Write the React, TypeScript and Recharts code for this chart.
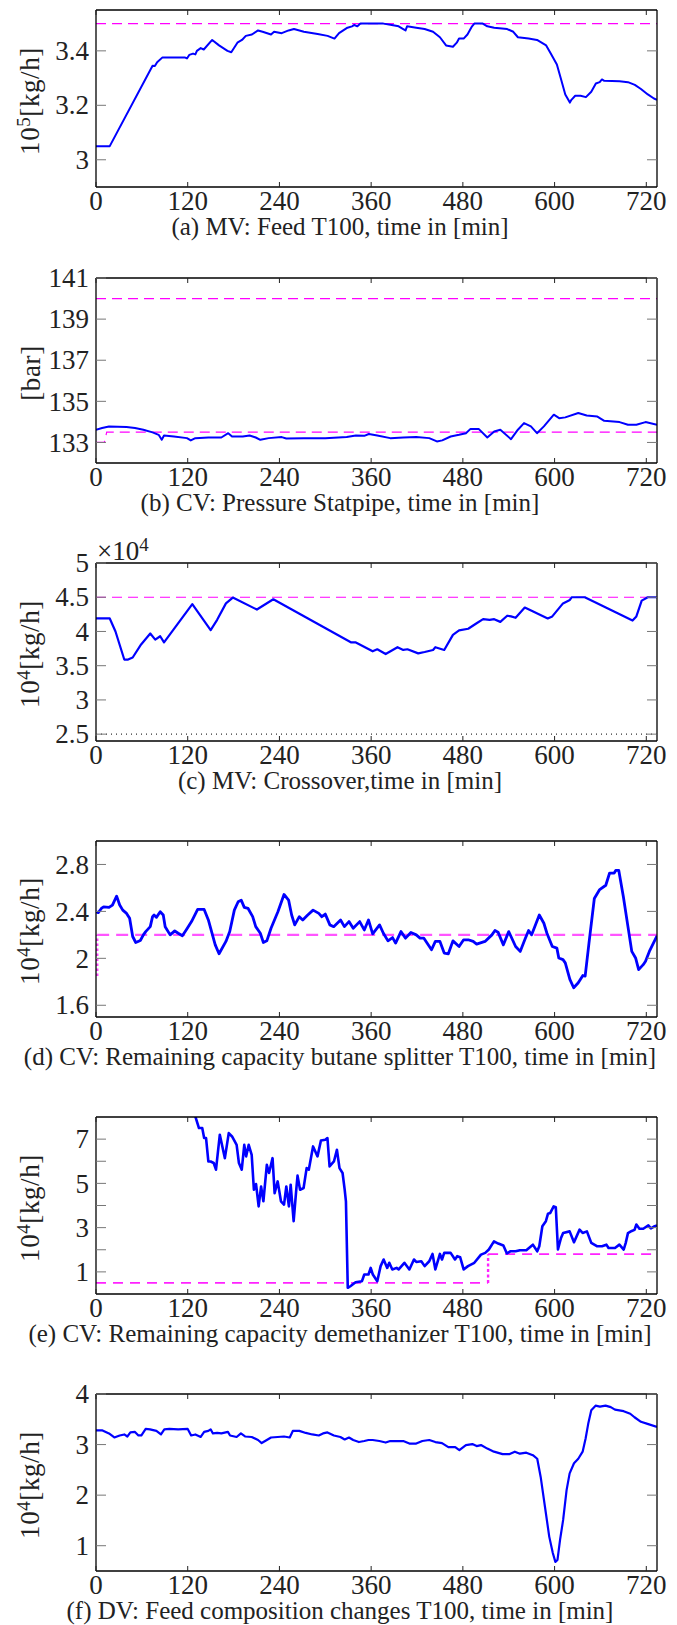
import React from 'react';
import { LineChart, Line, XAxis, YAxis } from 'recharts';

const FONT = "'Liberation Serif', 'Times New Roman', serif";
const INK = '#222';
const BLUE = '#0000ff';

const T_MAX = 734;
const timeTicks = [0, 120, 240, 360, 480, 600, 720];

// (a) MV feed T100 [10^5 kg/h], pairs of [time min, value]
const feedT100 = [
  [0, 3.05], [18, 3.05], [74, 3.345], [77, 3.344], [80, 3.358], [87, 3.376], [116, 3.376], [119, 3.372],
  [122, 3.385], [127, 3.39], [130, 3.387], [132, 3.4], [137, 3.41], [141, 3.405], [152, 3.44], [161, 3.42],
  [172, 3.4], [177, 3.395], [185, 3.43], [191, 3.44], [196, 3.455], [204, 3.46], [212, 3.475], [218, 3.47],
  [229, 3.46], [233, 3.47], [243, 3.465], [252, 3.475], [259, 3.48], [272, 3.47], [290, 3.462], [303, 3.455],
  [312, 3.445], [318, 3.465], [329, 3.485], [335, 3.49], [338, 3.495], [342, 3.49], [346, 3.5], [376, 3.5],
  [387, 3.495], [396, 3.49], [402, 3.48], [405, 3.475], [407, 3.49],
  [419, 3.485], [430, 3.48], [441, 3.47], [450, 3.45], [458, 3.42], [467, 3.415], [472, 3.43], [475, 3.445],
  [481, 3.445], [486, 3.46], [492, 3.49], [495, 3.5], [506, 3.5], [512, 3.49], [521, 3.485], [538, 3.48],
  [546, 3.47], [552, 3.45], [566, 3.445], [577, 3.44], [589, 3.42], [595, 3.39], [603, 3.35], [608, 3.3],
  [614, 3.24], [620, 3.21], [622, 3.22], [627, 3.235], [634, 3.235], [641, 3.23], [648, 3.25], [654, 3.28],
  [659, 3.285], [662, 3.295], [665, 3.29], [685, 3.288], [696, 3.285], [705, 3.275], [713, 3.26], [722, 3.24],
  [730, 3.225], [734, 3.22],
];
const feedMax = [[0, 3.5], [T_MAX, 3.5]];

// (b) CV pressure Statpipe [bar]
const pressure = [
  [0, 133.62], [8, 133.7], [17, 133.78], [40, 133.75], [51, 133.7], [62, 133.62], [74, 133.49], [82, 133.37],
  [86, 133.13], [89, 133.34], [102, 133.29], [119, 133.21], [124, 133.1], [130, 133.21], [147, 133.24],
  [164, 133.24], [173, 133.45], [178, 133.29], [192, 133.29], [201, 133.34], [209, 133.24], [215, 133.13],
  [226, 133.21], [243, 133.26], [249, 133.19], [272, 133.21], [300, 133.21], [328, 133.26], [340, 133.34],
  [351, 133.32], [357, 133.41], [368, 133.34], [385, 133.21], [402, 133.24], [419, 133.26], [436, 133.21],
  [446, 133.05], [453, 133.1], [464, 133.29], [475, 133.37], [484, 133.45], [490, 133.66], [501, 133.65],
  [512, 133.24], [521, 133.53], [529, 133.62], [543, 133.16], [552, 133.62], [560, 133.94], [569, 133.78],
  [577, 133.45], [586, 133.78], [599, 134.35], [606, 134.18], [614, 134.22], [631, 134.43], [642, 134.31],
  [656, 134.26], [665, 134.05], [685, 133.99], [696, 133.86], [707, 133.86], [719, 133.99], [734, 133.86],
];
const pressureMax = [[0, 140], [T_MAX, 140]];
const pressureMin = [[0, 133], [11, 133], [14, 133.5], [T_MAX, 133.5]];

// (c) MV crossover [10^4 kg/h]
const crossover = [
  [0, 4.19], [18, 4.19], [25.5, 4.0], [37, 3.59], [42, 3.59], [48, 3.62], [59, 3.81], [71, 3.97], [77.5, 3.88],
  [84, 3.93], [89, 3.84], [126, 4.4], [150, 4.02], [158.5, 4.17], [170, 4.41], [179, 4.495], [210.5, 4.32],
  [232, 4.47], [334, 3.84], [340, 3.84], [362, 3.71], [368, 3.74], [379, 3.67], [394.5, 3.77], [402, 3.73],
  [407.5, 3.74], [421.6, 3.68], [430, 3.7], [441, 3.73], [444, 3.77], [455.6, 3.73], [467, 3.95], [475, 4.015],
  [487, 4.04], [498, 4.12], [506.5, 4.18], [515, 4.17], [521, 4.18], [529, 4.14], [538, 4.23], [543, 4.22],
  [549, 4.2], [561, 4.35], [572, 4.29], [591, 4.19], [597, 4.22], [611, 4.41], [620, 4.46], [622.5, 4.5],
  [639.5, 4.5], [702, 4.16], [707, 4.22], [714, 4.45], [722, 4.5], [734, 4.5],
];
const crossoverMax = [[0, 4.5], [T_MAX, 4.5]];
const crossoverMin = [[0, 2.5], [T_MAX, 2.5]];

// (d) CV remaining capacity butane splitter [10^4 kg/h]
const butane = [
  [0, 2.397], [3, 2.389], [7, 2.425], [10, 2.439], [17, 2.434], [21.5, 2.454], [27, 2.53], [31, 2.454],
  [35, 2.411], [40, 2.383], [44, 2.341], [48, 2.186], [52, 2.135], [58, 2.152], [62, 2.2], [65, 2.228],
  [71, 2.27], [74, 2.355], [76, 2.369], [79, 2.349], [84, 2.397], [88, 2.369], [90.5, 2.27], [97, 2.2],
  [103, 2.234], [107.5, 2.214], [113, 2.192], [118, 2.242], [125, 2.313], [133, 2.417], [141.5, 2.417],
  [147, 2.327], [156, 2.115], [161, 2.039], [170, 2.144], [175, 2.228], [181, 2.411], [186, 2.482],
  [190, 2.496], [194, 2.434], [199, 2.425], [205, 2.355], [209, 2.27], [215, 2.214], [219, 2.135],
  [223.5, 2.149], [229, 2.256], [238, 2.397], [246, 2.544], [252, 2.496], [256, 2.369], [260, 2.285],
  [266, 2.355], [270.5, 2.327], [277, 2.369], [284, 2.411], [291.5, 2.383], [295.5, 2.355], [300, 2.377],
  [306, 2.285], [311, 2.27], [320, 2.327], [325, 2.27], [331, 2.313], [336.5, 2.256], [345, 2.313],
  [351, 2.242], [356.5, 2.327], [362, 2.208], [371, 2.285], [376, 2.214], [382, 2.149], [388, 2.177],
  [392, 2.13], [399, 2.228], [405, 2.172], [412, 2.22], [419, 2.2], [424, 2.172], [429, 2.172], [439, 2.073],
  [444, 2.144], [450, 2.144], [455.6, 2.045], [461, 2.039], [467, 2.149], [475, 2.101], [481, 2.158],
  [487, 2.158], [493.5, 2.144], [498, 2.121], [509, 2.144], [518, 2.2], [522, 2.237], [526, 2.223],
  [533, 2.115], [540, 2.228], [549, 2.101], [555, 2.059], [561, 2.158], [566, 2.237], [570, 2.2],
  [580, 2.369], [586, 2.299], [590, 2.214], [597, 2.101], [603, 2.087], [605.5, 2.003], [611, 1.989],
  [614, 1.961], [620, 1.82], [625, 1.749], [631, 1.792], [637, 1.854], [640, 1.848], [645, 2.13], [652, 2.51],
  [659, 2.586], [667, 2.623], [672, 2.727], [678, 2.727], [680, 2.749], [684, 2.749], [690, 2.524],
  [696, 2.27], [701, 2.059], [706, 2.003], [710, 1.904], [716, 1.946], [719, 1.975], [724, 2.059],
  [734, 2.192],
];
const butaneStep = [[1.5, 1.85], [1.5, 2.2]];
const butaneMin = [[1.5, 2.2], [T_MAX, 2.2]];

// (e) CV remaining capacity demethanizer [10^4 kg/h]
const demethanizer = [
  [125, 8.6], [130, 8.02], [134.7, 7.5], [139, 7.5], [141.5, 7.05], [144, 7.05], [147, 5.99], [150, 5.99],
  [154, 5.92], [157, 5.62], [162, 7.2], [168.6, 6.14], [173.7, 7.27], [178, 7.12], [184, 6.74], [187, 5.92],
  [190.7, 5.62], [194, 6.74], [196.4, 6.22], [199.8, 6.74], [203.7, 6.29], [206.6, 4.71], [209.4, 4.97],
  [212.8, 3.96], [216, 4.86], [219, 4.19], [223.5, 5.84], [226.4, 5.47], [231, 6.14], [233.7, 4.56],
  [237.7, 5.09], [242, 4.19], [246, 4.04], [249, 4.86], [252.4, 3.96], [254.7, 4.94], [258.6, 3.29],
  [262, 4.71], [263.7, 5.35], [267, 4.71], [271.6, 4.79], [275.6, 5.69], [278.4, 5.62], [284, 6.67],
  [289.8, 6.22], [294.3, 6.94], [300, 6.97], [302.8, 7.05], [305.6, 5.77], [311.3, 5.99], [315.2, 6.52],
  [318.6, 5.69], [322.6, 5.47], [325.4, 4.71], [327, 4.19], [329.4, 0.28], [332.8, 0.35], [339.6, 0.53],
  [348, 0.58], [351, 0.88], [356.5, 0.88], [359.4, 1.18], [362.2, 0.88], [368, 0.58], [372.4, 1.26],
  [376.3, 1.56], [381, 1.18], [383.7, 1.41], [387.7, 1.11], [393.3, 1.18], [396, 1.11], [403.5, 1.41],
  [410, 1.11], [416, 1.56], [419, 1.45], [425.6, 1.48], [430, 1.26], [436, 1.48], [440.3, 1.81], [444, 1.11],
  [450, 1.81], [452.7, 1.56], [455.6, 1.86], [464, 1.86], [469.7, 1.56], [472.6, 1.71], [476.5, 1.66],
  [481, 1.11], [486.7, 1.26], [495, 1.41], [503.7, 1.78], [509.3, 1.86], [514, 2.01], [520.7, 2.38],
  [526.3, 2.28], [533, 2.19], [537.6, 1.83], [542, 1.93], [549, 1.93], [554.6, 1.98], [563, 1.98],
  [571.6, 2.23], [577.3, 1.93], [580, 2.16], [584, 3.06], [588.6, 3.29], [591.4, 3.63], [594.2, 3.66],
  [598.8, 3.96], [601.6, 3.92], [604.4, 2.01], [608.4, 2.53], [611.2, 2.76], [619.7, 2.83], [625.4, 2.34],
  [632.7, 2.91], [636.7, 2.76], [642.3, 2.83], [648, 2.31], [655.3, 2.16], [662, 2.16], [667.8, 2.23],
  [670.6, 2.08], [679, 2.08], [684.8, 2.23], [690.4, 2.01], [693, 2.3], [696, 2.75], [701, 2.85],
  [704.6, 2.9], [707, 3.14], [711, 2.95], [716, 2.95], [722.7, 3.1], [726, 2.97], [730, 3.05], [734, 3.1],
];
const demethLow = [[0, 0.5], [513, 0.5]];
const demethStep = [[513, 0.5], [513, 1.8]];
const demethHigh = [[513, 1.8], [T_MAX, 1.8]];

// (f) DV feed composition changes [10^4 kg/h]
const composition = [
  [0, 3.28], [8.5, 3.28], [17, 3.22], [24, 3.14], [31, 3.18], [37, 3.2], [41, 3.16], [45, 3.24], [51, 3.25],
  [55.5, 3.18], [59.4, 3.18], [65, 3.31], [70.7, 3.3], [79, 3.27], [85, 3.2], [89.4, 3.3], [96, 3.31],
  [107.5, 3.3], [120, 3.31], [124.5, 3.18], [130, 3.2], [137, 3.15], [141.5, 3.25], [147, 3.27], [150, 3.3],
  [153, 3.22], [158.5, 3.23], [164, 3.22], [172.6, 3.25], [175.4, 3.18], [184, 3.15], [189.6, 3.22],
  [195, 3.16], [203.7, 3.15], [212, 3.09], [216.8, 3.03], [223.5, 3.09], [229, 3.14], [237.7, 3.15],
  [246, 3.16], [253.5, 3.14], [257.5, 3.27], [266, 3.27], [274.5, 3.23], [283, 3.2], [291.5, 3.18],
  [297, 3.22], [302.8, 3.24], [311.3, 3.18], [319.7, 3.15], [325.4, 3.1], [331, 3.14], [336.5, 3.09],
  [344, 3.05], [351, 3.07], [356.5, 3.09], [362, 3.09], [370.7, 3.07], [379, 3.04], [385, 3.07], [402, 3.07],
  [410, 3.02], [419, 3.02], [427, 3.07], [436, 3.09], [444, 3.05], [452.7, 3.03], [461, 2.95], [470, 2.95],
  [475.4, 2.89], [484, 2.99], [492.4, 3.01], [498, 2.97], [503.7, 2.99], [512, 2.92], [520.7, 2.86],
  [532, 2.81], [540.5, 2.81], [548, 2.86], [554.6, 2.82], [563, 2.84], [571.6, 2.79], [577.3, 2.72],
  [581.8, 2.36], [587.4, 1.77], [593, 1.18], [597.6, 0.86], [601, 0.68], [603.8, 0.72], [607.2, 1.12],
  [611.2, 1.51], [615.7, 2.1], [619.7, 2.43], [625.4, 2.63], [631, 2.72], [636.7, 2.86], [640.6, 3.12],
  [644, 3.41], [648, 3.68], [653.6, 3.77], [659.3, 3.75], [666.7, 3.77], [673.5, 3.74], [679, 3.69],
  [690.4, 3.66], [699, 3.61], [704.6, 3.54], [713, 3.45], [721.6, 3.41], [734, 3.35],
];

const PLOT_L = 96;
const PLOT_R = 657;
const MT = 20;
const XH = 40;
const TICK_FS = 27;

type RefLine = { data: number[][]; color: string; width: number; dash: string };

interface PanelProps {
  top: number;
  bottom: number;
  domain: [number, number];
  ticks: number[];
  tickText?: (v: number) => string;
  series: number[][];
  lineWidth: number;
  refs: RefLine[];
  yLabel: React.ReactNode;
  caption: string;
}

const toPts = (a: number[][]) => a.map(([t, v]) => ({ t, v }));

const Panel = ({ top, bottom, domain, ticks, tickText, series, lineWidth, refs, yLabel, caption }: PanelProps) => {
  const h = bottom - top;
  const xTick = (p: any) => (
    <g>
      <line x1={p.x} x2={p.x} y1={MT + h} y2={MT + h - 5} stroke={INK} strokeWidth={1} />
      <line x1={p.x} x2={p.x} y1={MT} y2={MT + 5} stroke={INK} strokeWidth={1} />
      <text x={p.x} y={MT + h + 23} textAnchor="middle" fontFamily={FONT} fontSize={TICK_FS} fill={INK}>
        {p.payload.value}
      </text>
    </g>
  );
  const yTick = (p: any) => (
    <g>
      <line x1={PLOT_L} x2={PLOT_L + 10} y1={p.y} y2={p.y} stroke="#777" strokeWidth={1} />
      <text x={PLOT_L - 7} y={p.y} dy="0.34em" textAnchor="end" fontFamily={FONT} fontSize={TICK_FS} fill={INK}>
        {tickText ? tickText(p.payload.value) : String(p.payload.value)}
      </text>
    </g>
  );
  const rTick = (p: any) => (
    <line x1={PLOT_R} x2={PLOT_R - 10} y1={p.y} y2={p.y} stroke="#777" strokeWidth={1} />
  );
  const frame = { stroke: '#000', strokeWidth: 1.3 };

  return (
    <>
      <div style={{ position: 'absolute', left: 0, top: top - MT }}>
        <LineChart width={677} height={h + MT + XH} margin={{ top: MT - 1, right: 677 - PLOT_R - 1, left: 0, bottom: 0 }}>
          <XAxis xAxisId="b" type="number" dataKey="t" domain={[0, T_MAX]} ticks={timeTicks} allowDataOverflow
            height={XH} axisLine={frame} tickLine={false} tick={xTick} interval={0} />
          <XAxis xAxisId="t" orientation="top" type="number" dataKey="t" domain={[0, T_MAX]} allowDataOverflow
            height={1} axisLine={frame} tickLine={false} tick={false} />
          <YAxis yAxisId="l" type="number" domain={domain} ticks={ticks} allowDataOverflow width={PLOT_L}
            axisLine={frame} tickLine={false} tick={yTick} interval={0} />
          <YAxis yAxisId="r" orientation="right" type="number" domain={domain} ticks={ticks} allowDataOverflow
            width={1} axisLine={frame} tickLine={false} tick={rTick} interval={0} />
          {refs.map((r, i) => (
            <Line key={i} xAxisId="b" yAxisId="l" data={toPts(r.data)} dataKey="v" type="linear" dot={false}
              stroke={r.color} strokeWidth={r.width} strokeDasharray={r.dash} isAnimationActive={false} />
          ))}
          <Line xAxisId="b" yAxisId="l" data={toPts(series)} dataKey="v" type="linear" dot={false}
            stroke={BLUE} strokeWidth={lineWidth} strokeLinejoin="round" isAnimationActive={false} />
        </LineChart>
      </div>
      <div style={{
        position: 'absolute', left: 31, top: (top + bottom) / 2 + 2, fontSize: 27, lineHeight: '27px',
        whiteSpace: 'nowrap', letterSpacing: 0.6, transform: 'translate(-50%, -50%) rotate(-90deg)',
      }}>
        {yLabel}
      </div>
      <div style={{
        position: 'absolute', left: 0, width: 680, top: bottom + 27, textAlign: 'center', fontSize: 25,
        lineHeight: '25px', whiteSpace: 'nowrap',
      }}>
        {caption}
      </div>
    </>
  );
};

const sup: React.CSSProperties = { fontSize: '0.7em', verticalAlign: 'baseline', position: 'relative', top: '-0.5em' };
const kgh = (e: string) => (
  <>
    10<span style={sup}>{e}</span>[kg/h]
  </>
);

export default function App() {
  return (
    <div style={{ position: 'absolute', left: 0, top: 0, width: 677, height: 1625, fontFamily: FONT, color: INK, background: '#fff' }}>
      <Panel top={10} bottom={187} domain={[2.9, 3.55]} ticks={[3, 3.2, 3.4]} series={feedT100} lineWidth={2}
        refs={[{ data: feedMax, color: '#ff00ff', width: 1.2, dash: '10 6' }]}
        yLabel={kgh('5')} caption="(a) MV: Feed T100, time in [min]" />
      <Panel top={278} bottom={463} domain={[132, 141]} ticks={[133, 135, 137, 139, 141]} series={pressure} lineWidth={2}
        refs={[
          { data: pressureMax, color: '#ff00ff', width: 1.2, dash: '10 6' },
          { data: pressureMin, color: '#ff00ff', width: 1.2, dash: '10 6' },
        ]}
        yLabel="[bar]" caption="(b) CV: Pressure Statpipe, time in [min]" />
      <Panel top={563} bottom={741} domain={[2.4, 5]} ticks={[2.5, 3, 3.5, 4, 4.5, 5]} series={crossover} lineWidth={2.2}
        refs={[
          { data: crossoverMax, color: '#ff00ff', width: 1.2, dash: '10 6' },
          { data: crossoverMin, color: '#333', width: 1.2, dash: '1 4' },
        ]}
        yLabel={kgh('4')} caption="(c) MV: Crossover,time in [min]" />
      <div style={{ position: 'absolute', left: 97, top: 538, fontSize: 27, lineHeight: '27px', whiteSpace: 'nowrap' }}>
        ×10<span style={sup}>4</span>
      </div>
      <Panel top={841} bottom={1017} domain={[1.5, 3]} ticks={[1.6, 2, 2.4, 2.8]} series={butane} lineWidth={2.8}
        refs={[
          { data: butaneStep, color: '#ff44ff', width: 2.6, dash: '2.5 2.5' },
          { data: butaneMin, color: '#ff55ff', width: 2.2, dash: '12 7' },
        ]}
        yLabel={kgh('4')} caption="(d) CV: Remaining capacity butane splitter T100, time in [min]" />
      <Panel top={1117} bottom={1294} domain={[0, 8]} ticks={[1, 2, 3, 4, 5, 6, 7]}
        tickText={(v) => (v % 2 === 1 ? String(v) : '')} series={demethanizer} lineWidth={2.6}
        refs={[
          { data: demethLow, color: '#ff22ff', width: 1.8, dash: '10 7' },
          { data: demethStep, color: '#ff22ff', width: 2.4, dash: '3 2.5' },
          { data: demethHigh, color: '#ff22ff', width: 1.8, dash: '10 7' },
        ]}
        yLabel={kgh('4')} caption="(e) CV: Remaining capacity demethanizer T100, time in [min]" />
      <Panel top={1394} bottom={1571} domain={[0.5, 4]} ticks={[1, 2, 3, 4]} series={composition} lineWidth={2.2}
        refs={[]}
        yLabel={kgh('4')} caption="(f) DV: Feed composition changes T100, time in [min]" />
    </div>
  );
}
